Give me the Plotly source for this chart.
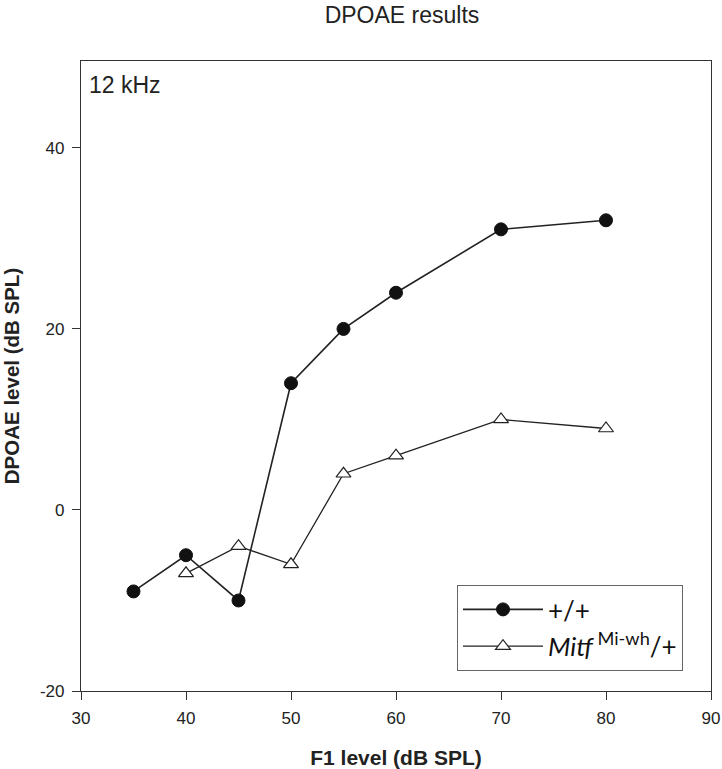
import plotly.graph_objects as go

f1_wt = [35, 40, 45, 50, 55, 60, 70, 80]
dp_wt = [-9, -5, -10, 14, 20, 24, 31, 32]
f1_mut = [40, 45, 50, 55, 60, 70, 80]
dp_mut = [-7, -4, -6, 4, 6, 10, 9]
x_ticks = [30, 40, 50, 60, 70, 80, 90]
y_ticks = [-20, 0, 20, 40]
y_tick_text = ["-20", "0", "20", "40"]

W, H = 722, 769
PL, PR, PT, PB = 81, 711, 61, 691          # plot box in page pixels
L, R, T, B = PL, W - PR, PT, H - PB
PW, PH = PR - PL, PB - PT

def fx(x):
    return (x - PL) / PW

def fy(y):
    return (PB - y) / PH

fig = go.Figure()
fig.add_trace(go.Scatter(
    x=f1_wt, y=dp_wt, mode="lines+markers", name="+/+",
    line=dict(color="#222222", width=1.6),
    marker=dict(symbol="circle", size=13, color="#111111", line=dict(color="#111111", width=1)),
))
fig.add_trace(go.Scatter(
    x=f1_mut, y=dp_mut, mode="lines+markers", name="<i>Mitf</i><sup> Mi-wh</sup>/+",
    line=dict(color="#222222", width=1.3),
    marker=dict(symbol="triangle-up", size=13, color="white", line=dict(color="#222222", width=1.2)),
))

fig.update_layout(
    width=W, height=H,
    margin=dict(l=L, r=R, t=T, b=B, autoexpand=False),
    paper_bgcolor="white", plot_bgcolor="white",
    font=dict(family="Liberation Sans, Arial, sans-serif", color="#222222", size=17),
    title=dict(text="DPOAE results", x=fx(402), xanchor="center", xref="paper",
               y=1 - 15 / H, yanchor="middle", automargin=False,
               font=dict(size=23, color="#222222")),
    showlegend=True,
    legend=dict(x=fx(457), xanchor="left", y=fy(585), yanchor="top",
                bordercolor="#666666", borderwidth=1, bgcolor="white",
                font=dict(family="Lato, Open Sans, sans-serif", size=26, color="#111111"),
                itemwidth=80, tracegroupgap=4),
    xaxis=dict(range=[30, 90], tickvals=x_ticks,
               showline=True, linecolor="#333333", linewidth=1.2, mirror=True,
               ticks="outside", ticklen=8, tickcolor="#333333", showgrid=False, zeroline=False,
               automargin=False, ticklabelstandoff=3,
               title=dict(text="<b>F1 level (dB SPL)</b>", font=dict(size=21), standoff=23)),
    yaxis=dict(range=[-20, 49.6], tickvals=y_ticks, ticktext=y_tick_text,
               showline=True, linecolor="#333333", linewidth=1.2, mirror=True,
               ticks="outside", ticklen=8, tickcolor="#333333", showgrid=False, zeroline=False,
               automargin=False, ticklabelstandoff=4,
               title=dict(text="<b>DPOAE level (dB SPL)</b>", font=dict(size=20.5), standoff=19)),
    annotations=[dict(text="12 kHz", x=fx(87), y=fy(85), xref="paper", yref="paper",
                      xanchor="left", yanchor="middle", showarrow=False,
                      font=dict(size=23, color="#222222"))],
)

fig.write_html("out.html", config={"displayModeBar": False},
               post_script="document.body.style.margin='0';")
